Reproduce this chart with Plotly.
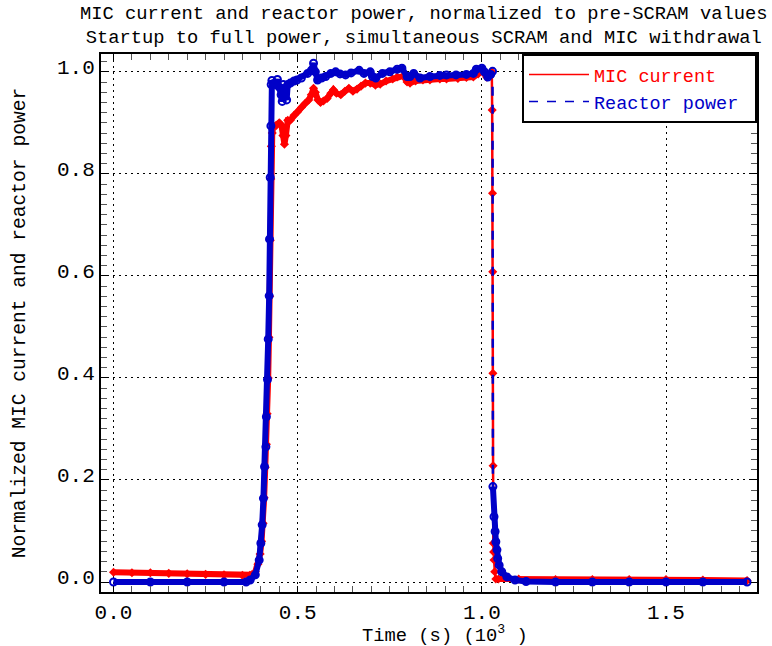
import plotly.graph_objects as go

# ---------------- data ----------------
# MIC current, normalized (time in seconds)
t_mic = [0, 50, 100, 150, 200, 250, 300, 350, 370, 375, 385, 392, 398, 402, 406,
         409, 412, 415, 417, 420, 422, 424, 425.5, 427, 428.5, 431, 434, 442, 450,
         456, 460, 464, 468, 473, 480, 490, 500, 510, 520, 530, 537, 543, 548, 555,
         562, 570, 580, 590, 597, 605, 617, 628, 639, 650, 661, 672, 684, 697, 711,
         724, 740, 758, 770, 787, 797, 805, 820, 840, 859, 886, 904, 935, 958, 977,
         990, 1000, 1013, 1027, 1028, 1029, 1029.5, 1030, 1030.5, 1031, 1032, 1033,
         1035, 1038, 1045, 1100, 1200, 1300, 1400, 1500, 1600, 1720]
v_mic = [0.019, 0.018, 0.018, 0.017, 0.016, 0.015, 0.014, 0.013, 0.013, 0.014,
         0.020, 0.035, 0.055, 0.080, 0.115, 0.165, 0.225, 0.270, 0.330, 0.400,
         0.480, 0.560, 0.670, 0.790, 0.854, 0.880, 0.893, 0.895, 0.900, 0.895,
         0.875, 0.858, 0.875, 0.905, 0.905, 0.915, 0.922, 0.930, 0.938, 0.945,
         0.955, 0.968, 0.960, 0.945, 0.940, 0.943, 0.948, 0.958, 0.965, 0.958,
         0.955, 0.962, 0.968, 0.962, 0.966, 0.972, 0.978, 0.978, 0.974, 0.976,
         0.982, 0.986, 0.990, 0.992, 0.980, 0.978, 0.982, 0.984, 0.984, 0.986,
         0.986, 0.987, 0.989, 0.990, 0.996, 1.002, 0.990, 1.000, 0.925, 0.762,
         0.608, 0.409, 0.228, 0.076, 0.059, 0.043, 0.020, 0.006, 0.006, 0.006,
         0.005, 0.005, 0.005, 0.005, 0.004, 0.003]

# Reactor power, normalized (time in seconds)
t_pwr = [0, 100, 200, 300, 360, 371, 385, 395.5, 400, 403.6, 407, 410, 413.7, 415,
         418, 420, 422.6, 423.5, 425.4, 427.3, 428, 430, 440, 445, 450, 455, 458,
         461, 465, 470, 473, 480, 490, 498, 510, 527, 537, 543, 548, 554, 565, 576,
         590, 603, 615, 630, 645, 667, 680, 697, 703, 712, 730, 750, 770, 783, 797,
         805, 815, 832, 859, 886, 904, 930, 958, 977, 985, 1000, 1007, 1016, 1024,
         1029, 1030, 1033, 1036, 1038, 1041, 1043, 1047, 1054, 1068, 1090, 1120,
         1200, 1300, 1400, 1500, 1600, 1720]
v_pwr = [0.0, 0.0, 0.0, 0.0, 0.0, 0.004, 0.014, 0.043, 0.076, 0.112, 0.164, 0.226,
         0.265, 0.324, 0.397, 0.476, 0.561, 0.672, 0.793, 0.894, 0.975, 0.983,
         0.975, 0.985, 0.970, 0.955, 0.942, 0.975, 0.960, 0.945, 0.975, 0.978,
         0.982, 0.984, 0.988, 0.997, 1.003, 1.017, 1.000, 0.984, 0.988, 0.991,
         0.997, 1.000, 0.996, 0.994, 0.998, 1.003, 0.997, 1.000, 0.991, 0.988,
         0.997, 1.000, 1.005, 1.007, 0.991, 0.991, 0.997, 0.988, 0.991, 0.993,
         0.994, 0.994, 0.995, 0.997, 1.005, 1.007, 1.000, 0.990, 0.995, 1.001,
         0.187, 0.128, 0.099, 0.079, 0.063, 0.046, 0.033, 0.020, 0.010, 0.004,
         0.001, 0.0, 0.0, 0.0, 0.0, 0.0, 0.0]

x_ticks = [0.0, 0.5, 1.0, 1.5]
y_ticks = [0.0, 0.2, 0.4, 0.6, 0.8, 1.0]

title_lines = ["MIC current and reactor power, normalized to pre-SCRAM values",
               "Startup to full power, simultaneous SCRAM and MIC withdrawal"]
x_title = "Time (s) (10<sup>3</sup> )"
y_title = "Normalized MIC current and reactor power"
name_mic = "MIC current"
name_pwr = "Reactor power"

# ---------------- styling ----------------
RED = "#ff0000"
BLUE = "#0000c8"
FONT = "Liberation Mono"

xk_mic = [t / 1000.0 for t in t_mic]
xk_pwr = [t / 1000.0 for t in t_pwr]

fig = go.Figure()

# MIC current: thick band on slowly varying parts, thin line + markers everywhere
mic_a = t_mic.index(1027) + 1
mic_b = t_mic.index(1038)
for sl in (slice(0, mic_a), slice(mic_b, None)):
    fig.add_trace(go.Scatter(x=xk_mic[sl], y=v_mic[sl], mode="lines",
                             line=dict(color=RED, width=6),
                             showlegend=False, hoverinfo="skip"))
fig.add_trace(go.Scatter(x=xk_mic, y=v_mic, mode="lines+markers",
                         line=dict(color=RED, width=2.5),
                         marker=dict(symbol="diamond", size=7, color=RED),
                         showlegend=False, hoverinfo="skip"))

# Reactor power
drop_i = t_pwr.index(1029)
for sl in (slice(0, drop_i + 1), slice(drop_i + 1, None)):
    fig.add_trace(go.Scatter(x=xk_pwr[sl], y=v_pwr[sl], mode="lines",
                             line=dict(color=BLUE, width=6),
                             showlegend=False, hoverinfo="skip"))
fig.add_trace(go.Scatter(x=xk_pwr, y=v_pwr, mode="lines+markers",
                         line=dict(color=BLUE, width=2.5, dash="dash"),
                         marker=dict(symbol="circle-open", size=7, color=BLUE,
                                     line=dict(width=2, color=BLUE)),
                         showlegend=False, hoverinfo="skip"))

# legend entries
fig.add_trace(go.Scatter(x=[None], y=[None], mode="lines",
                         line=dict(color=RED, width=1.5),
                         name='<span style="color:%s">%s</span>&nbsp;' % (RED, name_mic)))
fig.add_trace(go.Scatter(x=[None], y=[None], mode="lines",
                         line=dict(color=BLUE, width=1.5, dash="dash"),
                         name='<span style="color:%s">%s</span>&nbsp;' % (BLUE, name_pwr)))

axis_common = dict(
    showline=True, linecolor="black", linewidth=2, mirror="allticks",
    ticks="inside", ticklen=6, tickwidth=1, tickcolor="black",
    showgrid=True, gridcolor="black", gridwidth=1, griddash="2px,4px",
    zeroline=False, tickfont=dict(family=FONT, size=21, color="black"),
    tickformat=".1f", automargin=False,
)

fig.update_xaxes(range=[-0.034, 1.747], tickvals=x_ticks,
                 minor=dict(dtick=0.05, ticks="inside", ticklen=6, tickwidth=1,
                            tickcolor="#555555", showgrid=False),
                 **axis_common)
fig.update_yaxes(range=[-0.0196, 1.035], tickvals=y_ticks, ticklabelshift=-5,
                 minor=dict(dtick=0.02, ticks="inside", ticklen=6, tickwidth=1,
                            tickcolor="#555555", showgrid=False),
                 title=dict(text=y_title, font=dict(family=FONT, size=19.6, color="black"),
                            standoff=26),
                 **axis_common)

fig.update_layout(
    width=772, height=646,
    margin=dict(l=101, r=15, t=54, b=54),
    paper_bgcolor="white", plot_bgcolor="white",
    legend=dict(x=1, xanchor="right", y=1, yanchor="top",
                bgcolor="white", bordercolor="black", borderwidth=2,
                font=dict(family=FONT, size=18.5), itemwidth=60,
                tracegroupgap=0),
    showlegend=True,
)

# chart title (two lines) and x-axis title
fig.add_annotation(text="<br>".join(title_lines), xref="paper", yref="paper",
                   x=0.4926, y=1, xanchor="center", yanchor="bottom", yshift=3,
                   showarrow=False, align="center",
                   font=dict(family=FONT, size=18.8, color="black"))
fig.add_annotation(text=x_title, xref="paper", yref="paper",
                   x=0.5246, y=-0.0781, xanchor="center", yanchor="middle",
                   showarrow=False,
                   font=dict(family=FONT, size=18.8, color="black"))

fig.write_html("out.html", config={"displayModeBar": False},
               post_script="document.body.style.margin='0px';")
